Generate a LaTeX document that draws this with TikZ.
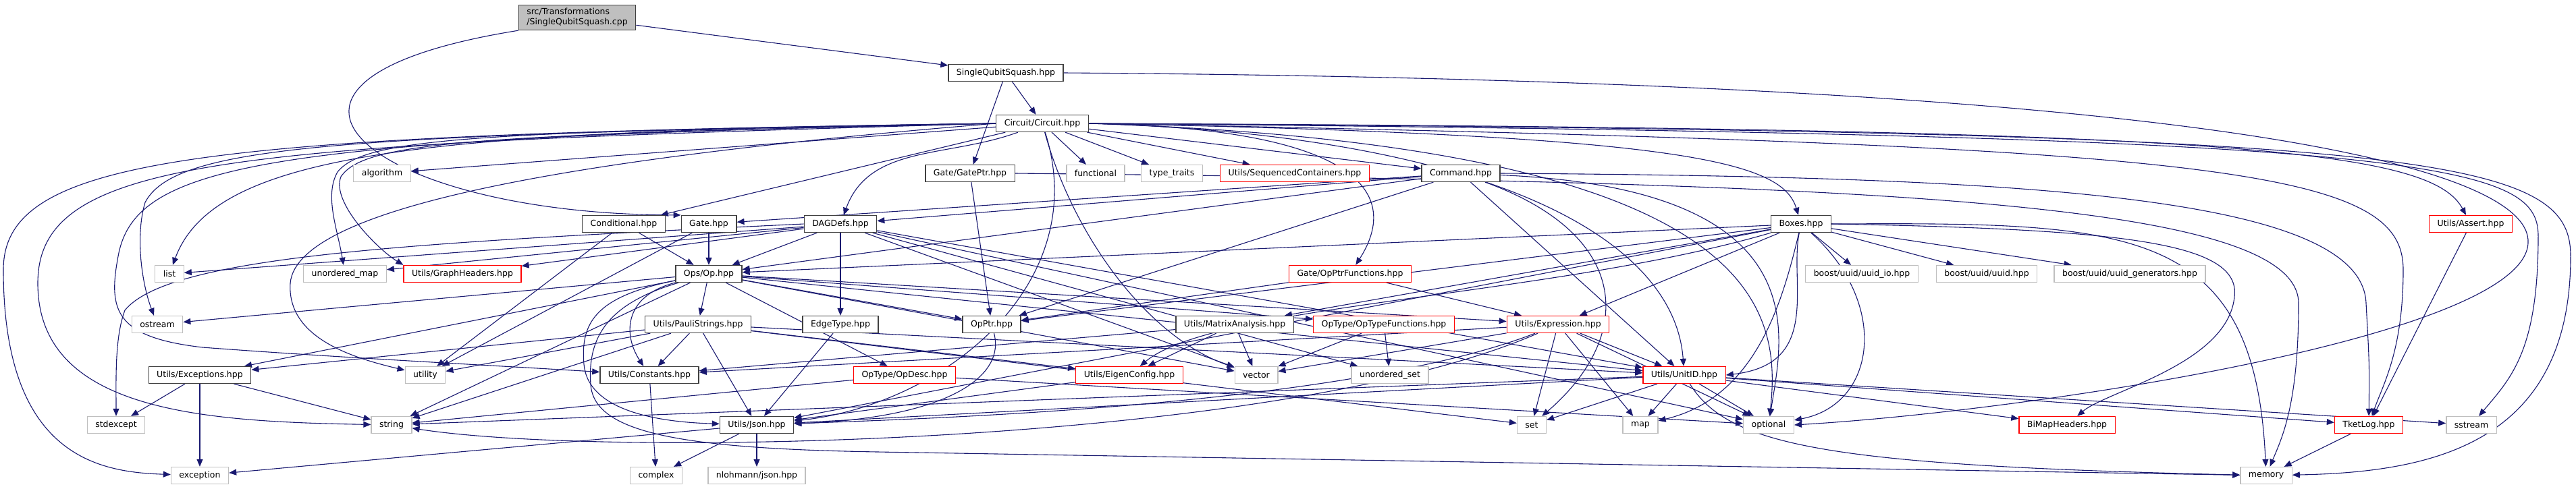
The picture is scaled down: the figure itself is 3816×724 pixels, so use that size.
\documentclass[tikz,border=0pt]{standalone}
\usepackage{fontspec}
\setsansfont{DejaVu Sans}
\usetikzlibrary{arrows.meta, backgrounds}
\definecolor{edgeblue}{HTML}{191970}
\definecolor{grey25}{HTML}{404040}
\definecolor{grey75}{HTML}{BFBFBF}

\begin{document}
\begin{tikzpicture}[
    x=1pt, y=1pt,
    font=\sffamily\fontsize{12.5}{15}\selectfont,
    >={Triangle[length=11pt,width=9pt]},
    hdr/.style={rectangle, draw=grey25, fill=white, line width=1.3pt, minimum height=25pt, inner xsep=12pt, inner ysep=2pt},
    trunc/.style={hdr, draw=red},
    sys/.style={hdr, draw=grey75},
    root/.style={hdr, fill=grey75, align=left, inner ysep=5pt},
    dep/.style={->, draw=edgeblue, line width=1.1pt}
]
\useasboundingbox (0,0) rectangle (3816,-724);

% Top of the graph
\node[root] (cpp) at (855,-26) {src/Transformations\\/SingleQubitSquash.cpp};
\node[hdr] (sqs) at (1490,-108) {SingleQubitSquash.hpp};
\node[hdr] (circ) at (1544,-183) {Circuit/Circuit.hpp};

% Row 3
\node[sys] (algorithm) at (566,-257) {algorithm};
\node[hdr] (gateptr) at (1437,-257) {Gate/GatePtr.hpp};
\node[sys] (functional) at (1623,-257) {functional};
\node[sys] (typetraits) at (1736,-257) {type\_traits};
\node[trunc] (seqcont) at (1918,-257) {Utils/SequencedContainers.hpp};
\node[hdr] (command) at (2164,-257) {Command.hpp};

% Row 4
\node[hdr] (conditional) at (924,-332) {Conditional.hpp};
\node[hdr] (gate) at (1050,-332) {Gate.hpp};
\node[hdr] (dagdefs) at (1245,-332) {DAGDefs.hpp};
\node[hdr] (boxes) at (2668,-332) {Boxes.hpp};
\node[trunc] (assert) at (3660,-332) {Utils/Assert.hpp};

% Row 5
\node[sys] (list) at (251,-406) {list};
\node[sys] (umap) at (511,-406) {unordered\_map};
\node[trunc] (graphh) at (685,-406) {Utils/GraphHeaders.hpp};
\node[hdr] (op) at (1050,-406) {Ops/Op.hpp};
\node[trunc] (opptrfun) at (2000,-406) {Gate/OpPtrFunctions.hpp};
\node[sys] (uuidio) at (2758,-406) {boost/uuid/uuid\_io.hpp};
\node[sys] (uuid) at (2943,-406) {boost/uuid/uuid.hpp};
\node[sys] (uuidgen) at (3155,-406) {boost/uuid/uuid\_generators.hpp};

% Row 6
\node[sys] (ostream) at (233,-481) {ostream};
\node[hdr] (pauli) at (1034,-481) {Utils/PauliStrings.hpp};
\node[hdr] (edgetype) at (1245,-481) {EdgeType.hpp};
\node[hdr] (opptr) at (1469,-481) {OpPtr.hpp};
\node[hdr] (matrix) at (1829,-481) {Utils/MatrixAnalysis.hpp};
\node[trunc] (optypefun) at (2050,-481) {OpType/OpTypeFunctions.hpp};
\node[trunc] (expression) at (2308,-481) {Utils/Expression.hpp};

% Row 7
\node[hdr] (exceptions) at (296,-556) {Utils/Exceptions.hpp};
\node[sys] (utility) at (630,-556) {utility};
\node[hdr] (constants) at (962,-556) {Utils/Constants.hpp};
\node[trunc] (opdesc) at (1340,-556) {OpType/OpDesc.hpp};
\node[trunc] (eigen) at (1673,-556) {Utils/EigenConfig.hpp};
\node[sys] (vector) at (1861,-556) {vector};
\node[sys] (uset) at (2059,-556) {unordered\_set};
\node[trunc] (unitid) at (2495,-556) {Utils/UnitID.hpp};

% Row 8
\node[sys] (stdexcept) at (172,-630) {stdexcept};
\node[sys] (string) at (580,-630) {string};
\node[hdr] (json) at (1121,-630) {Utils/Json.hpp};
\node[sys] (set) at (2269,-630) {set};
\node[sys] (map) at (2430,-630) {map};
\node[sys] (optional) at (2620,-630) {optional};
\node[trunc] (bimap) at (3062,-630) {BiMapHeaders.hpp};
\node[trunc] (tketlog) at (3509,-630) {TketLog.hpp};
\node[sys] (sstream) at (3661,-630) {sstream};

% Row 9
\node[sys] (exception) at (296,-705) {exception};
\node[sys] (complex) at (972,-705) {complex};
\node[sys] (nlohmann) at (1121,-705) {nlohmann/json.hpp};
\node[sys] (memory) at (3357,-705) {memory};

\begin{scope}[on background layer]
% Source file and SingleQubitSquash.hpp
\draw[dep] (cpp) -- (sqs);
\draw[dep] (cpp.south west) .. controls (300,-120) and (550,-318) .. (gate.north west);
\draw[dep] (sqs) -- (circ);
\draw[dep] (sqs) -- (gateptr);
\draw[dep] (sqs.east) .. controls (3300,-120) and (3750,-250) .. (3745,-360) .. controls (3740,-500) and (3000,-610) .. (optional.east);

% Circuit.hpp, to the left
\draw[dep] (circ) -- (algorithm);
\draw[dep] (circ.west) .. controls (650,-195) and (320,-220) .. (list);
\draw[dep] (circ.west) .. controls (700,-195) and (540,-205) .. (500,-255) .. controls (480,-290) and (500,-340) .. (umap);
\draw[dep] (circ.west) .. controls (700,-200) and (540,-210) .. (505,-262) .. controls (490,-300) and (560,-370) .. (graphh.north west);
\draw[dep] (circ.west) .. controls (500,-200) and (260,-215) .. (215,-300) .. controls (200,-350) and (210,-420) .. (ostream);
\draw[dep] (circ.west) .. controls (900,-230) and (440,-300) .. (430,-420) .. controls (425,-500) and (520,-530) .. (utility);
\draw[dep] (circ.west) .. controls (400,-205) and (200,-240) .. (175,-380) .. controls (160,-460) and (170,-500) .. (300,-515) .. controls (500,-530) and (700,-540) .. (constants);
\draw[dep] (circ.west) .. controls (350,-215) and (56,-230) .. (56,-420) .. controls (56,-610) and (300,-625) .. (string);
\draw[dep] (circ.west) .. controls (300,-200) and (5,-230) .. (5,-400) .. controls (5,-680) and (150,-700) .. (exception);

% Circuit.hpp, downwards and to the right
\draw[dep] (circ) to[out=200,in=70] (dagdefs);
\draw[dep] (circ) -- (conditional);
\draw[dep] (circ) -- (functional);
\draw[dep] (circ) -- (typetraits);
\draw[dep] (circ) -- (seqcont);
\draw[dep] (circ) -- (command);
\draw[dep] (circ) .. controls (1590,-350) and (1700,-500) .. (vector);
\draw[dep] (circ) .. controls (1620,-420) and (1400,-600) .. (json);
\draw[dep] (circ.east) .. controls (2000,-190) and (2080,-280) .. (opptrfun);
\draw[dep] (circ.east) .. controls (2500,-200) and (2640,-240) .. (boxes);
\draw[dep] (circ.east) .. controls (3300,-190) and (3600,-220) .. (assert);
\draw[dep] (circ.east) .. controls (2200,-200) and (2480,-350) .. (unitid);
\draw[dep] (circ.east) .. controls (2600,-215) and (2640,-450) .. (optional);
\draw[dep] (circ.east) .. controls (3600,-195) and (3808,-230) .. (3808,-380) .. controls (3808,-660) and (3600,-700) .. (memory);
\draw[dep] (circ.east) .. controls (3600,-200) and (3760,-240) .. (3760,-350) .. controls (3760,-520) and (3720,-560) .. (sstream);
\draw[dep] (circ.east) .. controls (3300,-215) and (3560,-250) .. (3560,-400) .. controls (3560,-520) and (3530,-570) .. (tketlog);

% GatePtr.hpp and Command.hpp
\draw[dep] (gateptr) -- (opptr);
\draw[dep] (gateptr.east) .. controls (2800,-270) and (3405,-300) .. (3405,-450) .. controls (3405,-600) and (3380,-650) .. (memory);
\draw[dep] (command) -- (gate);
\draw[dep] (command) -- (dagdefs);
\draw[dep] (command) -- (op);
\draw[dep] (command) -- (opptr);
\draw[dep] (command) -- (unitid);
\draw[dep] (command) .. controls (2420,-350) and (2420,-500) .. (set);
\draw[dep] (command) .. controls (2700,-280) and (2640,-500) .. (optional);
\draw[dep] (command.east) .. controls (3000,-262) and (3500,-290) .. (3505,-450) .. controls (3510,-540) .. (tketlog);

% Conditional.hpp, Gate.hpp, DAGDefs.hpp
\draw[dep] (conditional) -- (op);
\draw[dep] (conditional) -- (utility);
\draw[dep] (gate) -- (op);
\draw[dep] (gate) -- (utility);
\draw[dep] (dagdefs) -- (list);
\draw[dep] (dagdefs) -- (umap);
\draw[dep] (dagdefs) -- (graphh);
\draw[dep] (dagdefs) -- (op);
\draw[dep] (dagdefs) -- (edgetype);
\draw[dep] (dagdefs) -- (vector);
\draw[dep] (dagdefs) -- (uset);
\draw[dep] (dagdefs) -- (unitid);
\draw[dep] (dagdefs) -- (optional);
\draw[dep] (dagdefs.west) .. controls (600,-360) and (250,-380) .. (185,-460) .. controls (170,-500) and (172,-560) .. (stdexcept);

% Boxes.hpp
\draw[dep] (boxes) -- (op);
\draw[dep] (boxes) -- (opptr);
\draw[dep] (boxes) -- (uuidio);
\draw[dep] (boxes) -- (uuid);
\draw[dep] (boxes) -- (uuidgen);
\draw[dep] (boxes) -- (matrix);
\draw[dep] (boxes) -- (expression);
\draw[dep] (boxes) -- (json);
\draw[dep] (boxes) .. controls (2300,-440) and (1800,-450) .. (eigen);
\draw[dep] (boxes) .. controls (2650,-420) and (2700,-540) .. (unitid.east);
\draw[dep] (boxes) .. controls (2640,-450) and (2600,-590) .. (map);
\draw[dep] (boxes) .. controls (2800,-450) and (2780,-600) .. (optional);
\draw[dep] (boxes.east) .. controls (3150,-330) and (3340,-330) .. (memory);
\draw[dep] (boxes.east) .. controls (3150,-340) and (3320,-360) .. (3310,-440) .. controls (3300,-540) and (3120,-580) .. (bimap);

% Ops/Op.hpp
\draw[dep] (op) -- (ostream);
\draw[dep] (op) -- (pauli);
\draw[dep] (op) -- (opptr);
\draw[dep] (op) -- (opdesc);
\draw[dep] (op) -- (optypefun);
\draw[dep] (op) -- (expression);
\draw[dep] (op) -- (exceptions);
\draw[dep] (op) -- (string);
\draw[dep] (op) -- (vector);
\draw[dep] (op) -- (unitid);
\draw[dep] (op) .. controls (920,-440) and (925,-500) .. (constants);
\draw[dep] (op) .. controls (880,-440) and (860,-480) .. (865,-540) .. controls (870,-600) and (950,-625) .. (json);
\draw[dep] (op) .. controls (900,-450) and (870,-500) .. (875,-570) .. controls (880,-640) and (1000,-665) .. (1300,-670) -- (memory);

% Row 6 headers
\draw[dep] (pauli) -- (constants);
\draw[dep] (pauli) -- (json);
\draw[dep] (pauli) -- (utility);
\draw[dep] (pauli) -- (string);
\draw[dep] (pauli) -- (exceptions);
\draw[dep] (pauli) -- (eigen);
\draw[dep] (pauli) -- (unitid);
\draw[dep] (pauli) -- (set);
\draw[dep] (edgetype) -- (json);
\draw[dep] (opptr) .. controls (1490,-560) and (1400,-620) .. (json);
\draw[dep] (opptrfun) -- (opptr);
\draw[dep] (opptrfun) -- (expression);
\draw[dep] (matrix) -- (eigen);
\draw[dep] (matrix) -- (vector);
\draw[dep] (matrix) -- (constants);
\draw[dep] (optypefun) -- (vector);
\draw[dep] (optypefun) -- (uset);
\draw[dep] (expression) -- (constants);
\draw[dep] (expression) -- (vector);
\draw[dep] (expression) -- (set);
\draw[dep] (expression) -- (map);
\draw[dep] (expression) -- (optional);
\draw[dep] (expression) -- (unitid);
\draw[dep] (expression) .. controls (2000,-600) and (1400,-620) .. (json);
\draw[dep] (expression) .. controls (1900,-660) and (900,-680) .. (string);

% Row 7 headers
\draw[dep] (exceptions) -- (stdexcept);
\draw[dep] (exceptions) -- (string);
\draw[dep] (exceptions) -- (exception);
\draw[dep] (constants) -- (complex);
\draw[dep] (opdesc) -- (string);
\draw[dep] (opdesc) -- (optional);
\draw[dep] (eigen) -- (json);
\draw[dep] (unitid) -- (json);
\draw[dep] (unitid) -- (string);
\draw[dep] (unitid) -- (set);
\draw[dep] (unitid) -- (map);
\draw[dep] (unitid) -- (optional);
\draw[dep] (unitid) -- (bimap);
\draw[dep] (unitid) -- (tketlog);
\draw[dep] (unitid) -- (sstream);
\draw[dep] (unitid) .. controls (2560,-660) and (2700,-690) .. (memory);

% Bottom rows
\draw[dep] (json) -- (complex);
\draw[dep] (json) -- (nlohmann);
\draw[dep] (json) -- (exception);
\draw[dep] (tketlog) -- (memory);
\draw[dep] (assert) -- (tketlog);
\end{scope}

\end{tikzpicture}
\end{document}
